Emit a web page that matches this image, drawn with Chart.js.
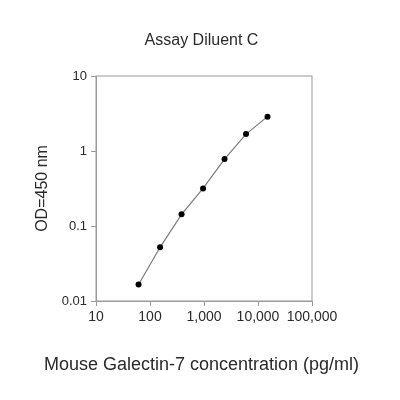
<!DOCTYPE html>
<html>
<head>
<meta charset="utf-8">
<script src="https://cdn.jsdelivr.net/npm/chart.js@4"></script>
<style>
html,body{margin:0;padding:0;background:#fff;}
#wrap{width:400px;height:400px;position:relative;}
</style>
</head>
<body>
<div id="wrap"><canvas id="c"></canvas></div>
<script>
const concentrations = [61.44, 153.6, 384, 960, 2400, 6000, 15000];
const odValues = [0.0166, 0.052, 0.143, 0.317, 0.78, 1.68, 2.87];
const xTickValues = [10, 100, 1000, 10000, 100000];
const xTickLabels = ['10', '100', '1,000', '10,000', '100,000'];
const yTickValues = [0.01, 0.1, 1, 10];
const yTickLabels = ['0.01', '0.1', '1', '10'];
const chartTitle = 'Assay Diluent C';
const xTitle = 'Mouse Galectin-7 concentration (pg/ml)';
const yTitle = 'OD=450 nm';

const FONT = 'Arial, "Liberation Sans", Helvetica, sans-serif';
const TEXT = '#2a2a2a';
const AXIS = '#9a9a9a';

const boxPlugin = {
  id: 'box',
  afterDraw(chart) {
    const a = chart.chartArea, ctx = chart.ctx;
    ctx.save();
    ctx.strokeStyle = AXIS;
    ctx.lineWidth = 1;
    ctx.strokeRect(a.left, a.top, a.right - a.left, a.bottom - a.top);
    ctx.restore();
  }
};

new Chart(document.getElementById('c'), {
  type: 'line',
  data: {
    datasets: [{
      data: concentrations.map((x, i) => ({x: x, y: odValues[i]})),
      borderColor: '#7a7a7a',
      borderWidth: 1.2,
      tension: 0,
      pointRadius: 3,
      pointBackgroundColor: '#000',
      pointBorderColor: '#000',
      pointBorderWidth: 0
    }]
  },
  options: {
    responsive: true,
    maintainAspectRatio: false,
    animation: false,
    layout: {padding: {left: 3, right: 0, top: 0, bottom: 0}},
    plugins: {
      legend: {display: false},
      tooltip: {enabled: false},
      title: {
        display: true,
        text: chartTitle,
        color: TEXT,
        font: {family: FONT, size: 16, weight: 'normal', lineHeight: 1.2},
        padding: {top: 31.4, bottom: 25.4}
      },
      subtitle: {
        display: true,
        position: 'bottom',
        text: xTitle,
        color: TEXT,
        font: {family: FONT, size: 18, weight: 'normal', lineHeight: 1.2},
        padding: {top: 0, bottom: 24.2}
      }
    },
    scales: {
      x: {
        type: 'logarithmic',
        min: 10, max: 100000,
        afterBuildTicks(s) { s.ticks = xTickValues.map(v => ({value: v})); },
        afterFit(s) { s.height = 53.2; },
        ticks: {
          color: TEXT,
          font: {family: FONT, size: 14},
          padding: 3,
          maxRotation: 0,
          autoSkip: false,
          callback(v) { const i = xTickValues.indexOf(v); return i >= 0 ? xTickLabels[i] : ''; }
        },
        grid: {drawOnChartArea: false, drawTicks: true, tickLength: 5, color: AXIS},
        border: {display: true, color: AXIS}
      },
      y: {
        type: 'logarithmic',
        min: 0.01, max: 10,
        afterBuildTicks(s) { s.ticks = yTickValues.map(v => ({value: v})); },
        afterFit(s) { s.width = 93; },
        ticks: {
          color: TEXT,
          font: {family: FONT, size: 13},
          padding: 4,
          autoSkip: false,
          callback(v) { const i = yTickValues.indexOf(v); return i >= 0 ? yTickLabels[i] : ''; }
        },
        grid: {drawOnChartArea: false, drawTicks: true, tickLength: 5, color: AXIS},
        border: {display: true, color: AXIS},
        title: {
          display: true, text: yTitle, color: TEXT,
          font: {family: FONT, size: 16, lineHeight: 1.2},
          padding: {top: 30, bottom: 0}
        }
      },
      rightSpace: {
        type: 'linear',
        position: 'right',
        display: true,
        afterFit(s) { s.width = 88; },
        ticks: {display: false},
        grid: {display: false},
        border: {display: false}
      }
    }
  },
  plugins: [boxPlugin]
});
</script>
</body>
</html>
